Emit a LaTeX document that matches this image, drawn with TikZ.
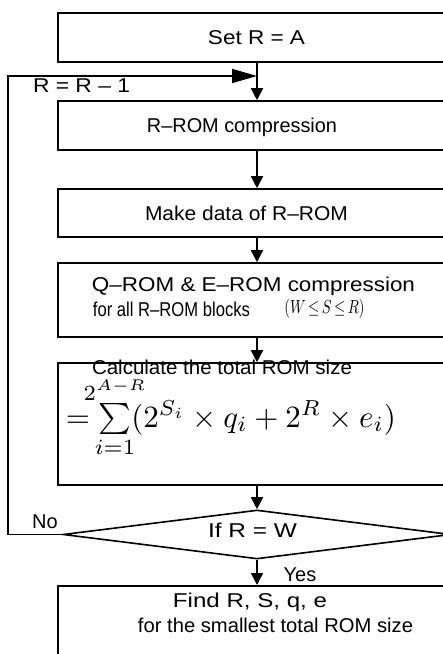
\documentclass[tikz,border=0pt]{standalone}
\usepackage{fontspec}
\setmainfont{Liberation Sans}
\usepackage{amsmath}
\usepackage{graphicx}
\usetikzlibrary{arrows.meta,shapes.geometric}
\newcommand{\fw}[2]{\resizebox{#1pt}{\height}{#2}}
\newcommand{\climit}[1]{\makebox[0pt]{$\scriptstyle #1$}}
\begin{document}
\begin{tikzpicture}[x=1pt,y=-1pt, line width=1.6pt,
  box/.style={draw, minimum width=398pt, inner sep=0pt},
  txt/.style={inner sep=0pt, font=\fontsize{20}{24}\selectfont},
  arr/.style={-{Triangle[length=12pt,width=12pt]}},
  bigarr/.style={-{Triangle[length=25pt,width=14pt]}}]
\useasboundingbox (0,0) rectangle (443,654);
\clip (0,0) rectangle (443,654);

\node[box, minimum height=49pt] (b1) at (257,37.5) {};
\node[box, minimum height=49pt] (b2) at (257,125.5) {};
\node[box, minimum height=48pt] (b3) at (257,213) {};
\node[box, minimum height=74pt] (b4) at (257,300) {};
\node[box, minimum height=122pt] (b5) at (257,424) {};
\node[diamond, draw, aspect=7.9, minimum width=388pt, minimum height=49pt, inner sep=0pt] (d) at (257,534.5) {};
\node[box, minimum height=120pt, anchor=north] (b6) at (257,585) {};

\node[txt] (t1) at (256.5,38) {\fw{97}{Set R = A}};
\node[txt] (t2) at (242,127) {\fw{190}{R--ROM compression}};
\node[txt] (t3) at (246.5,213) {\fw{203}{Make data of R--ROM}};
\node[txt] (t4a) at (253.5,286) {\fw{323}{Q--ROM \& E--ROM compression}};
\node[txt] (t4b) at (171.5,309) {\fw{157}{for all R--ROM blocks}};
\node[txt] (t4c) at (324.5,309) {\fontsize{10}{12}\selectfont\scalebox{1.45}[1.9]{$(W\,{\le}\,S\,{\le}\,R)$}};
\node[txt] (t5a) at (222,367.5) {\fw{260}{Calculate the total ROM size}};
\node[txt, anchor=base] (t5b) at (231,427) {\fontsize{10}{12}\selectfont\scalebox{3.1}{$=\sum\limits_{\climit{i=1}}^{\makebox[0pt]{\raisebox{-1.6pt}{$\scriptstyle 2^{A-R}$}}}(2^{S_i}\times q_i+2^{R}\times e_i)$}};
\node[txt] (t7) at (252.5,530) {\fw{89}{If R = W}};
\node[txt] (t6a) at (250,602) {\fw{154}{Find R, S, q, e}};
\node[txt] (t6b) at (275.5,625) {\fw{275}{for the smallest total ROM size}};

\coordinate (lc) at (8,76);
\coordinate (j) at (257,76);

\draw[arr] (b1) -- (b2);
\draw[arr] (b2) -- (b3);
\draw[arr] (b3) -- (b4);
\draw[arr] (b4) -- (b5);
\draw[arr] (b5) -- (d.north);
\draw[arr] (d.south) -- (b6.north);
\draw[bigarr] (d.west) -| (lc) -- (j);

\node[txt] (rr) at (81.5,86) {\fw{97}{R = R -- 1}};
\node[txt] (no) at (45,522) {No};
\node[txt] (yes) at (300,575) {Yes};
\end{tikzpicture}
\end{document}
